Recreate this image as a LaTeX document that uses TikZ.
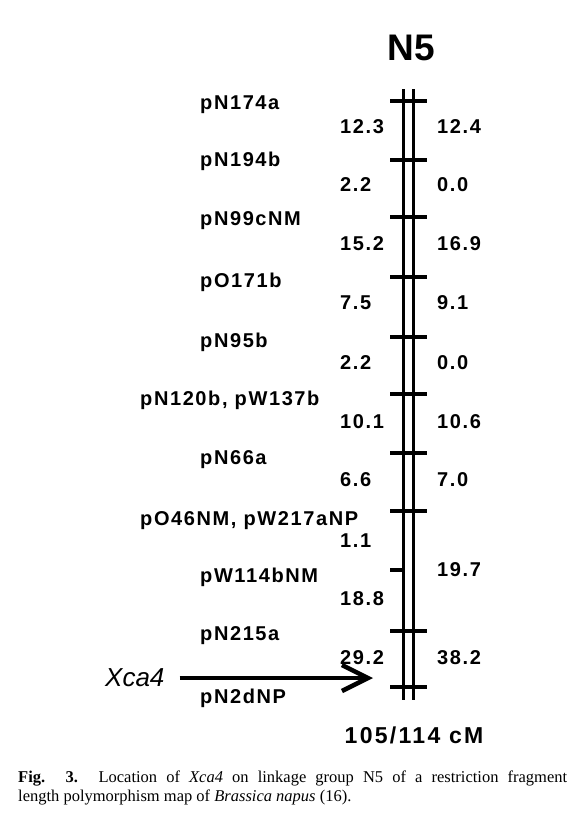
\documentclass[tikz,border=0pt]{standalone}
\usepackage{fontspec}
\setmainfont{Liberation Serif}
\newfontfamily\mapfont{Liberation Sans Bold}[LetterSpace=8]
\newfontfamily\totalfont{Liberation Sans Bold}[LetterSpace=10]
\newfontfamily\titlefont{Liberation Sans Bold}
\newfontfamily\genefont{Liberation Sans Italic}
\usetikzlibrary{arrows.meta}

\begin{document}
\begin{tikzpicture}[
% first : the styles of the map
    x=1pt, y=-1pt,
    marker/.style={
        anchor=base west,
        inner sep=0pt,
        font=\mapfont\fontsize{20}{24}\selectfont
    },
    chrom/.style={line width=3pt},
    locus/.style={line width=3.4pt},
    >={Straight Barb[length=26pt,width=26pt]}
]
\useasboundingbox (0,0) rectangle (574,816);

% title + total length
\node[font=\titlefont\fontsize{37}{40}\selectfont, inner sep=0pt] (title) at (411,48) {N5};
\node[font=\totalfont\fontsize{23}{26}\selectfont, inner sep=0pt] (total) at (414,735) {105/114 cM};

% the linkage group
\coordinate (top) at (403,89);
\coordinate (bottom) at (403,700);
\draw[chrom] (top) -- (bottom);
\draw[chrom] ([xshift=10pt]top) -- ([xshift=10pt]bottom);
\draw[locus]
    (390,101) -- (427,101)
    (390,160) -- (427,160)
    (390,217) -- (427,217)
    (390,277) -- (427,277)
    (390,337) -- (427,337)
    (390,394) -- (427,394)
    (390,453) -- (427,453)
    (390,511) -- (427,511)
    (390,570) -- (403,570)
    (390,631) -- (427,631)
    (390,687) -- (427,687);

% markers
\node[marker] (m1) at (200,109) {pN174a};
\node[marker] (m2) at (200,166) {pN194b};
\node[marker] (m3) at (200,225) {pN99cNM};
\node[marker] (m4) at (200,287) {pO171b};
\node[marker] (m5) at (200,347) {pN95b};
\node[marker] (m6) at (140,405) {pN120b, pW137b};
\node[marker] (m7) at (200,464) {pN66a};
\node[marker] (m8) at (140,525) {pO46NM, pW217aNP};
\node[marker] (m9) at (200,582) {pW114bNM};
\node[marker] (m10) at (200,640) {pN215a};
\node[marker] (m11) at (200,703) {pN2dNP};

% distances, left side
\node[marker] (l1) at (340,133) {12.3};
\node[marker] (l2) at (340,191) {2.2};
\node[marker] (l3) at (340,250) {15.2};
\node[marker] (l4) at (340,309) {7.5};
\node[marker] (l5) at (340,369) {2.2};
\node[marker] (l6) at (340,428) {10.1};
\node[marker] (l7) at (340,486) {6.6};
\node[marker] (l8) at (340,547) {1.1};
\node[marker] (l9) at (340,605) {18.8};
\node[marker] (l10) at (340,664) {29.2};

% distances, right side
\node[marker] (r1) at (437,133) {12.4};
\node[marker] (r2) at (437,191) {0.0};
\node[marker] (r3) at (437,250) {16.9};
\node[marker] (r4) at (437,309) {9.1};
\node[marker] (r5) at (437,369) {0.0};
\node[marker] (r6) at (437,428) {10.6};
\node[marker] (r7) at (437,486) {7.0};
\node[marker] (r8) at (437,576) {19.7};
\node[marker] (r9) at (437,664) {38.2};

% the gene + arrow
\node[anchor=west, inner sep=0pt, font=\genefont\fontsize{26}{28}\selectfont] (xca) at (105,678) {Xca4};
\coordinate (tip) at (373,678);
\draw[->, line width=4.5pt] ([xshift=15pt]xca.east) -- (tip);

% caption
\node[anchor=north west, inner sep=0pt, text width=549pt, align=justify,
      font=\fontsize{16.5}{19}\selectfont] (caption) at (18,771)
    {\textbf{Fig. 3.} Location of \textit{Xca4} on linkage group N5 of a restriction fragment\linebreak length polymorphism map of \textit{Brassica napus} (16).};

\end{tikzpicture}
\end{document}
